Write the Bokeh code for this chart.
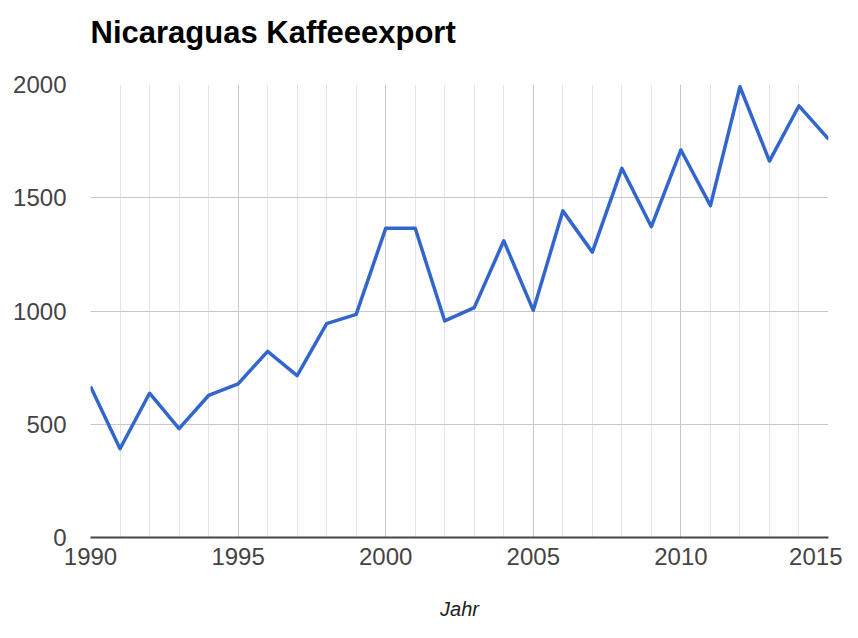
from bokeh.plotting import figure
from bokeh.models import FixedTicker, Range1d, Title
from bokeh.embed import file_html
from bokeh.resources import INLINE

years = list(range(1990, 2016))
export = [667, 392, 637, 481, 627, 678, 822, 715, 944, 985,
          1365, 1365, 956, 1015, 1310, 1003, 1442, 1260, 1630, 1372,
          1711, 1465, 1990, 1662, 1906, 1759]
x_ticks = [1990, 1995, 2000, 2005, 2010, 2015]
y_ticks = [0, 500, 1000, 1500, 2000]
title_text = "Nicaraguas Kaffeeexport"

FONT = "Liberation Sans"

p = figure(width=842, height=622, output_backend="svg", toolbar_location=None,
           x_range=Range1d(1990, 2015), y_range=Range1d(0, 2000),
           min_border_left=90, min_border_right=14, min_border_top=83,
           min_border_bottom=84, title=None)

# spacer between the title and the plot area (closest to the frame)
p.add_layout(Title(text=" ", text_font=FONT, text_font_size="12px",
                   standoff=3), "above")
# the real title (outermost)
p.add_layout(Title(text=title_text, text_font=FONT, text_font_size="31px",
                   text_font_style="bold", text_color="#000000",
                   align="left", vertical_align="top", standoff=28), "above")

p.outline_line_color = None
p.background_fill_color = "white"

p.line(years, export, line_color="#3366cc", line_width=3.5, line_join="round")

xa = p.xaxis[0]
xa.ticker = FixedTicker(ticks=x_ticks, minor_ticks=years)
xa.axis_line_color = "#444444"
xa.axis_line_width = 2
xa.major_tick_line_color = None
xa.minor_tick_line_color = None
xa.major_label_text_font = FONT
xa.major_label_text_font_size = "24px"
xa.major_label_text_color = "#444444"
xa.major_label_standoff = 4
xa.axis_label = "Jahr"
xa.axis_label_text_font = FONT
xa.axis_label_text_font_size = "20px"
xa.axis_label_text_font_style = "italic"
xa.axis_label_text_color = "#222222"
xa.axis_label_standoff = 30

ya = p.yaxis[0]
ya.ticker = FixedTicker(ticks=y_ticks)
ya.axis_line_color = None
ya.major_tick_line_color = None
ya.minor_tick_line_color = None
ya.major_label_text_font = FONT
ya.major_label_text_font_size = "24px"
ya.major_label_text_color = "#444444"
ya.major_label_standoff = 18

p.xgrid.grid_line_color = "#c8c8c8"
p.xgrid.minor_grid_line_color = "#e4e4e4"
p.ygrid.grid_line_color = "#c8c8c8"

open("out.html", "w").write(file_html(p, INLINE))
